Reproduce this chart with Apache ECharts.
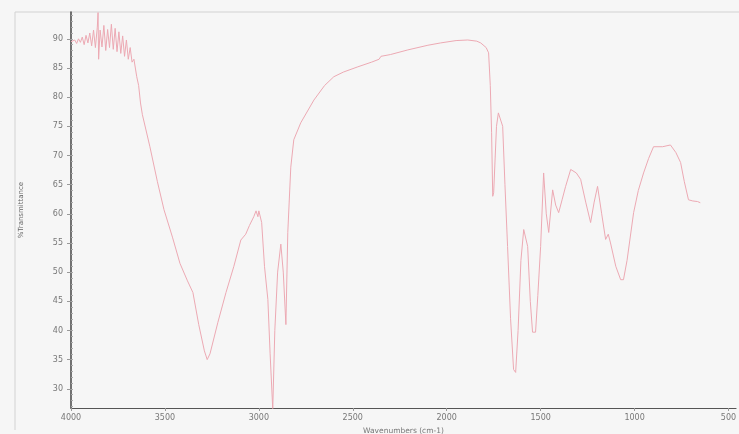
<!DOCTYPE html>
<html>
<head>
<meta charset="utf-8">
<script src="https://cdn.jsdelivr.net/npm/echarts@6/dist/echarts.min.js"></script>
<style>
html,body{margin:0;padding:0;background:#f6f6f6;}
#chart{width:739px;height:434px;}
</style>
</head>
<body>
<div id="chart"></div>
<script>
var wavenumbers = [4000,3990,3980,3970,3960,3950,3940,3930,3920,3910,3900,3890,3880,3870,3860,3856,3853,3845,3835,3825,3815,3805,3795,3785,3775,3765,3755,3745,3735,3725,3715,3705,3695,3685,3675,3665,3650,3640,3630,3620,3580,3540,3505,3460,3420,3380,3351,3320,3290,3275,3260,3218,3175,3133,3096,3070,3050,3027,3015,3005,3000,2985,2970,2952,2940,2926,2915,2900,2883,2870,2856,2846,2830,2814,2777,2707,2650,2601,2550,2473,2400,2360,2350,2340,2300,2207,2100,2032,1950,1888,1840,1819,1790,1777,1768,1761,1755,1750,1735,1725,1715,1702,1690,1676,1660,1644,1633,1620,1605,1590,1569,1555,1543,1527,1515,1500,1484,1470,1457,1436,1420,1404,1385,1367,1340,1310,1287,1260,1234,1215,1197,1175,1154,1140,1128,1100,1074,1059,1040,1005,980,952,925,899,851,809,780,755,735,713,690,665,650];
var transmittance = [89.5,89.3,89.8,89.2,90.0,89.4,90.3,89.0,90.6,89.3,91.0,88.8,91.5,88.5,92.0,94.5,86.5,91.5,88.6,92.3,88.0,91.6,88.5,92.5,88.2,91.8,87.8,91.2,87.5,90.5,87.0,89.8,86.5,88.5,86.0,86.5,83.5,82.0,79.0,77.0,71.5,65.5,60.7,56.0,51.5,48.5,46.5,41.0,36.5,35.0,36.0,41.4,46.5,51.0,55.5,56.5,58.0,59.5,60.5,59.5,60.5,58.5,51.0,45.3,36.0,26.5,40.0,50.0,54.8,50.0,41.0,56.8,68.0,72.7,75.6,79.5,82.0,83.5,84.3,85.2,86.0,86.5,87.0,86.8,87.3,88.1,88.9,89.3,89.7,89.8,89.6,89.3,88.5,87.6,82.0,73.9,63.0,63.6,75.0,77.3,77.0,75.0,65.0,54.4,42.0,33.3,32.8,40.0,52.0,57.3,54.4,45.0,39.7,39.7,46.0,54.4,67.0,60.0,56.8,64.1,61.5,60.2,62.5,64.7,67.6,67.0,65.9,62.0,58.5,62.0,64.7,60.0,55.6,56.5,55.0,51.0,48.7,48.7,52.0,60.2,64.0,67.0,69.5,71.5,71.5,71.8,70.5,68.8,65.5,62.4,62.2,62.1,61.9];
var xTicks = [4000,3500,3000,2500,2000,1500,1000,500];
var yTicks = [30,35,40,45,50,55,60,65,70,75,80,85,90];
var yMinor = [];
for (var v = 27; v <= 94; v++) yMinor.push(v);

var seriesData = wavenumbers.map(function(w, i){ return [w, transmittance[i]]; });

var chart = echarts.init(document.getElementById('chart'));
var labelStyle = {color:'#777', fontSize:8, fontFamily:'DejaVu Sans'};
chart.setOption({
  backgroundColor:'#f6f6f6',
  animation:false,
  grid:{left:71, right:3, top:12, bottom:26, outerBoundsMode:'none', containLabel:false},
  graphic:[
    {type:'line', shape:{x1:15,y1:12,x2:739,y2:12}, style:{stroke:'#d2d2d2', lineWidth:1}},
    {type:'line', shape:{x1:15,y1:12,x2:15,y2:430}, style:{stroke:'#d2d2d2', lineWidth:1}}
  ],
  xAxis:{
    type:'value', inverse:true, min:460, max:4000,
    name:'Wavenumbers (cm-1)', nameLocation:'middle', nameGap:15,
    nameTextStyle:{color:'#777', fontSize:7.5, fontFamily:'DejaVu Sans'},
    axisLine:{show:true, lineStyle:{color:'#555', width:1.2}},
    axisTick:{show:true, length:3, lineStyle:{color:'#999'}, customValues:xTicks},
    axisLabel:Object.assign({margin:6, customValues:xTicks, formatter:function(v){return String(v);}}, labelStyle),
    splitLine:{show:false}
  },
  yAxis:[{
    type:'value', min:26.7, max:94.6,
    name:'%Transmittance', nameLocation:'middle', nameGap:46, nameRotate:90,
    nameTextStyle:{color:'#666', fontSize:7, fontFamily:'DejaVu Sans'},
    axisLine:{show:true, lineStyle:{color:'#444', width:1.5}},
    axisTick:{show:true, length:4, lineStyle:{color:'#999'}, customValues:yTicks},
    axisLabel:Object.assign({margin:8, customValues:yTicks, formatter:function(v){return String(v);}}, labelStyle),
    splitLine:{show:false}
  },{
    type:'value', min:26.7, max:94.6, position:'left',
    axisLine:{show:false},
    axisTick:{show:true, inside:true, length:2, lineStyle:{color:'#aaa'}, customValues:yMinor},
    axisLabel:{show:false},
    splitLine:{show:false}
  }],
  series:[{
    type:'line', data:seriesData, showSymbol:false, symbol:'none',
    lineStyle:{color:'#eca9b3', width:1},
    yAxisIndex:0
  }]
});
</script>
</body>
</html>
